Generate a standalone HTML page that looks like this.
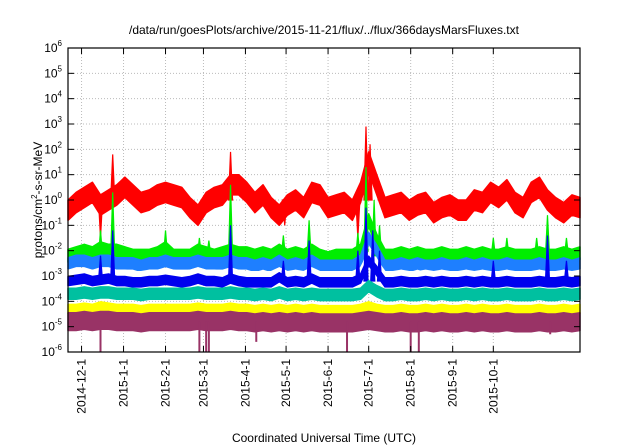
<!DOCTYPE html>
<html><head><meta charset="utf-8"><style>
body{margin:0;background:#fff;}
svg{display:block;font-family:"Liberation Sans",sans-serif;}
</style></head><body>
<svg id="chart" width="640" height="448" viewBox="0 0 640 448">
<text x="324" y="34" font-size="12" text-anchor="middle">/data/run/goesPlots/archive/2015-11-21/flux/../flux/366daysMarsFluxes.txt</text>
<text x="324" y="442" font-size="12" text-anchor="middle">Coordinated Universal Time (UTC)</text>
<text transform="translate(42,200) rotate(-90)" font-size="12" text-anchor="middle">protons/cm<tspan dy="-5" font-size="8">2</tspan><tspan dy="5">-s-sr-MeV</tspan></text>
<g id="grid"></g><g id="series"></g><g id="axes"></g>
</svg>
<script>
// Data (log10 flux), x in days since 2014-11-21
const tickLabels=["2014-12-1","2015-1-1","2015-2-1","2015-3-1","2015-4-1","2015-5-1","2015-6-1","2015-7-1","2015-8-1","2015-9-1","2015-10-1"];
const tickDays=[10,41,72,100,131,161,192,222,253,284,314];
const yDecades=[-6,-5,-4,-3,-2,-1,0,1,2,3,4,5,6];
const days=[0,6,12,18,24,30,36,42,48,54,60,66,72,78,84,90,96,102,108,114,120,126,132,138,144,150,156,162,168,174,180,186,192,198,204,210,216,222,228,234,240,246,252,258,264,270,276,282,288,294,300,306,312,318,324,330,336,342,348,354,360,366,372,378];
const redVals=[-0.4,-0.1,0.1,0.3,-0.2,0.0,0.2,0.5,0.2,-0.1,0.0,0.2,0.3,0.2,0.1,-0.3,-0.6,-0.1,0.1,0.2,0.6,0.6,0.3,-0.1,0.2,-0.3,-0.6,-0.2,0.0,-0.3,0.3,0.2,-0.3,-0.2,-0.1,-0.4,0.3,1.5,0.6,-0.3,-0.2,-0.1,-0.4,-0.2,-0.1,-0.5,-0.3,-0.2,-0.4,-0.4,0.0,-0.1,0.3,0.1,0.4,-0.1,-0.3,0.3,0.5,0.0,-0.3,-0.5,-0.2,-0.3];
const greenVals=[-2.2,-2.1,-2.0,-2.1,-1.9,-2.0,-2.0,-2.1,-2.2,-2.2,-2.2,-2.1,-1.9,-2.2,-2.2,-2.2,-2.0,-2.1,-2.2,-2.1,-2.0,-2.1,-2.1,-2.2,-2.1,-2.2,-2.0,-2.2,-2.1,-2.2,-2.0,-2.2,-2.3,-2.2,-2.2,-2.2,-2.0,-0.8,-1.6,-2.2,-2.2,-2.1,-2.2,-2.1,-2.2,-2.2,-2.1,-2.2,-2.2,-2.1,-2.2,-2.1,-2.2,-2.2,-2.1,-2.2,-2.2,-2.2,-2.1,-2.2,-2.2,-2.1,-2.2,-2.1];
const lblueVals=[-2.5,-2.4,-2.4,-2.5,-2.4,-2.4,-2.5,-2.5,-2.5,-2.6,-2.5,-2.5,-2.4,-2.5,-2.5,-2.5,-2.4,-2.5,-2.5,-2.5,-2.4,-2.5,-2.5,-2.6,-2.5,-2.6,-2.4,-2.6,-2.5,-2.6,-2.4,-2.6,-2.6,-2.6,-2.6,-2.6,-2.4,-1.5,-2.0,-2.6,-2.6,-2.5,-2.6,-2.5,-2.6,-2.6,-2.5,-2.6,-2.6,-2.5,-2.6,-2.5,-2.6,-2.6,-2.5,-2.6,-2.6,-2.6,-2.5,-2.6,-2.6,-2.5,-2.6,-2.5];
const whiteVals=[-2.9,-2.85,-2.85,-2.9,-2.9,-2.85,-2.9,-2.9,-2.95,-2.95,-2.9,-2.9,-2.85,-2.9,-2.95,-2.9,-2.8,-2.9,-2.9,-2.95,-2.85,-2.9,-2.95,-2.95,-2.95,-2.95,-2.8,-2.95,-2.9,-2.95,-2.8,-2.95,-2.95,-2.95,-2.95,-2.95,-2.8,-2.2,-2.5,-2.95,-2.95,-2.9,-2.95,-2.95,-2.9,-2.95,-2.9,-2.95,-2.95,-2.9,-2.95,-2.9,-2.95,-2.95,-2.9,-2.95,-2.95,-2.95,-2.9,-2.95,-2.95,-2.9,-2.95,-2.9];
const blueVals=[-3.2,-3.15,-3.1,-3.2,-3.15,-3.1,-3.2,-3.2,-3.25,-3.25,-3.2,-3.2,-3.15,-3.2,-3.25,-3.2,-3.1,-3.2,-3.2,-3.25,-3.1,-3.2,-3.25,-3.25,-3.25,-3.25,-3.05,-3.25,-3.2,-3.25,-3.1,-3.25,-3.25,-3.25,-3.25,-3.25,-3.1,-2.4,-2.8,-3.25,-3.25,-3.2,-3.25,-3.25,-3.2,-3.25,-3.2,-3.25,-3.25,-3.2,-3.25,-3.2,-3.25,-3.25,-3.2,-3.25,-3.25,-3.25,-3.2,-3.25,-3.25,-3.2,-3.25,-3.2];
const tealVals=[-3.7,-3.7,-3.65,-3.7,-3.65,-3.65,-3.7,-3.7,-3.7,-3.75,-3.7,-3.7,-3.7,-3.7,-3.7,-3.7,-3.65,-3.7,-3.7,-3.7,-3.65,-3.7,-3.7,-3.75,-3.7,-3.75,-3.65,-3.75,-3.7,-3.75,-3.7,-3.75,-3.75,-3.75,-3.75,-3.75,-3.7,-3.4,-3.6,-3.75,-3.75,-3.7,-3.75,-3.75,-3.7,-3.75,-3.7,-3.75,-3.75,-3.7,-3.75,-3.7,-3.75,-3.75,-3.7,-3.75,-3.75,-3.75,-3.7,-3.75,-3.75,-3.7,-3.75,-3.7];
const yellowVals=[-4.3,-4.3,-4.25,-4.3,-4.2,-4.25,-4.3,-4.3,-4.3,-4.35,-4.3,-4.3,-4.3,-4.3,-4.3,-4.3,-4.25,-4.3,-4.3,-4.3,-4.25,-4.3,-4.3,-4.35,-4.3,-4.35,-4.3,-4.35,-4.3,-4.35,-4.3,-4.35,-4.35,-4.35,-4.35,-4.35,-4.3,-4.2,-4.3,-4.35,-4.35,-4.3,-4.35,-4.35,-4.3,-4.35,-4.3,-4.35,-4.35,-4.3,-4.35,-4.3,-4.35,-4.35,-4.3,-4.35,-4.35,-4.35,-4.3,-4.35,-4.35,-4.3,-4.35,-4.3];
const maroonVals=[-4.8,-4.8,-4.75,-4.8,-4.75,-4.75,-4.8,-4.8,-4.8,-4.85,-4.8,-4.8,-4.8,-4.8,-4.8,-4.8,-4.75,-4.8,-4.8,-4.8,-4.75,-4.8,-4.8,-4.85,-4.8,-4.85,-4.8,-4.85,-4.8,-4.85,-4.8,-4.85,-4.85,-4.85,-4.85,-4.85,-4.8,-4.75,-4.8,-4.85,-4.85,-4.8,-4.85,-4.85,-4.8,-4.85,-4.8,-4.85,-4.85,-4.8,-4.85,-4.8,-4.85,-4.85,-4.8,-4.85,-4.85,-4.85,-4.8,-4.85,-4.85,-4.8,-4.85,-4.8];
// spikes: [day, peak log10]
const redSpikes=[[24,-1.5],[33,1.8],[120,1.9],[160,-1.0],[214,-1.5],[220,2.9],[223,2.2]];
const greenSpikes=[[24,-1.2],[33,0.3],[72,-1.2],[97,-1.5],[104,-1.6],[120,0.6],[159,-1.4],[178,-0.8],[214,-1.3],[220,1.3],[226,0.0],[230,-1.0],[314,-1.5],[324,-1.5],[346,-1.5],[354,-0.6],[368,-1.5]];
const blueSpikes=[[24,-2.2],[33,-1.2],[120,-1.0],[159,-2.4],[178,-1.6],[214,-2.0],[220,-0.3],[225,-1.2],[230,-2.0],[314,-2.4],[354,-1.4],[368,-2.4]];
const maroonDips=[[24,-6],[97,-6],[102,-6],[104,-6],[139,-5.6],[206,-6],[253,-6],[259,-6],[356,-5.3]];
</script>
<script>
const NS="http://www.w3.org/2000/svg";
const L=68,R=580,T=48,B=352,D0=0,D1=378;
const xS=d=>L+(d-D0)/(D1-D0)*(R-L);
const yS=v=>T+(6-v)/12*(B-T);
const grid=document.getElementById('grid'),ser=document.getElementById('series'),ax=document.getElementById('axes');
function mk(tag,attrs,parent){const e=document.createElementNS(NS,tag);for(const k in attrs)e.setAttribute(k,attrs[k]);parent.appendChild(e);return e;}
yDecades.forEach(v=>{
  const y=yS(v);
  if(v>-6&&v<6){const g=mk('line',{x1:L,x2:R,y1:y,y2:y,stroke:'#bbb','stroke-dasharray':'1,2'},grid);
  
  }
  mk('line',{x1:L,x2:L+6,y1:y,y2:y,stroke:'#000'},ax);
  mk('line',{x1:R,x2:R-6,y1:y,y2:y,stroke:'#000'},ax);
  const t=mk('text',{x:L-6,y:y+4,'font-size':12,'text-anchor':'end'},ax);
  
  
  t.textContent='10';
  const s=mk('tspan',{dy:-6,'font-size':8},t);s.textContent=String(v);
});
tickDays.forEach((d,i)=>{
  const x=xS(d);
  const g=mk('line',{x1:x,x2:x,y1:T,y2:B,stroke:'#bbb','stroke-dasharray':'1,2'},grid);
  
  
  mk('line',{x1:x,x2:x,y1:B,y2:B-6,stroke:'#000'},ax);
  mk('line',{x1:x,x2:x,y1:T,y2:T+6,stroke:'#000'},ax);
  const t=mk('text',{transform:`translate(${x+4},${B+7}) rotate(-90)`,'font-size':12,'text-anchor':'end'},ax);
  
  
  t.textContent=tickLabels[i];
});
const fr=mk('rect',{x:L,y:T,width:R-L,height:B-T,fill:'none',stroke:'#000','stroke-width':1.2},ax);


function band(vals,hw,color,name){
  const up=days.map((d,i)=>`${xS(d).toFixed(1)},${yS(Math.min(6,vals[i]+hw)).toFixed(1)}`);
  const dn=days.map((d,i)=>`${xS(d).toFixed(1)},${yS(Math.max(-6,vals[i]-hw)).toFixed(1)}`).reverse();
  const p=mk('polygon',{points:up.concat(dn).join(' '),fill:color,stroke:color,'stroke-width':1.5,'stroke-linejoin':'round'},ser);
  
  
}
function spikes(arr,base,color,name){
  arr.forEach(([d,v])=>{
    const p=mk('polygon',{points:`${xS(d-1.5)},${yS(base)} ${xS(d)},${yS(v)} ${xS(d+1.5)},${yS(base)}`,fill:color,stroke:color,'stroke-width':1.2},ser);
    
    
  });
}
band(redVals,0.4,'#ff0000','red-series');
spikes(redSpikes,0,'#ff0000','red-spike');
band(greenVals,0.25,'#00ee00','green-series');
spikes(greenSpikes,-2.2,'#00ee00','green-spike');
band(lblueVals,0.22,'#1e7fff','lightblue-series');
band(whiteVals,0.12,'#ffffff','white-series');
band(blueVals,0.18,'#0000ee','blue-series');
spikes(blueSpikes,-3.2,'#0000ee','blue-spike');
band(tealVals,0.22,'#00c0a0','teal-series');
band(yellowVals,0.18,'#ffff00','yellow-series');
band(maroonVals,0.35,'#993366','maroon-series');
maroonDips.forEach(([d,v])=>{
  const l=mk('line',{x1:xS(d),x2:xS(d),y1:yS(-4.8),y2:yS(v),stroke:'#993366','stroke-width':2},ser);
  
  
});
</script>
</body></html>
